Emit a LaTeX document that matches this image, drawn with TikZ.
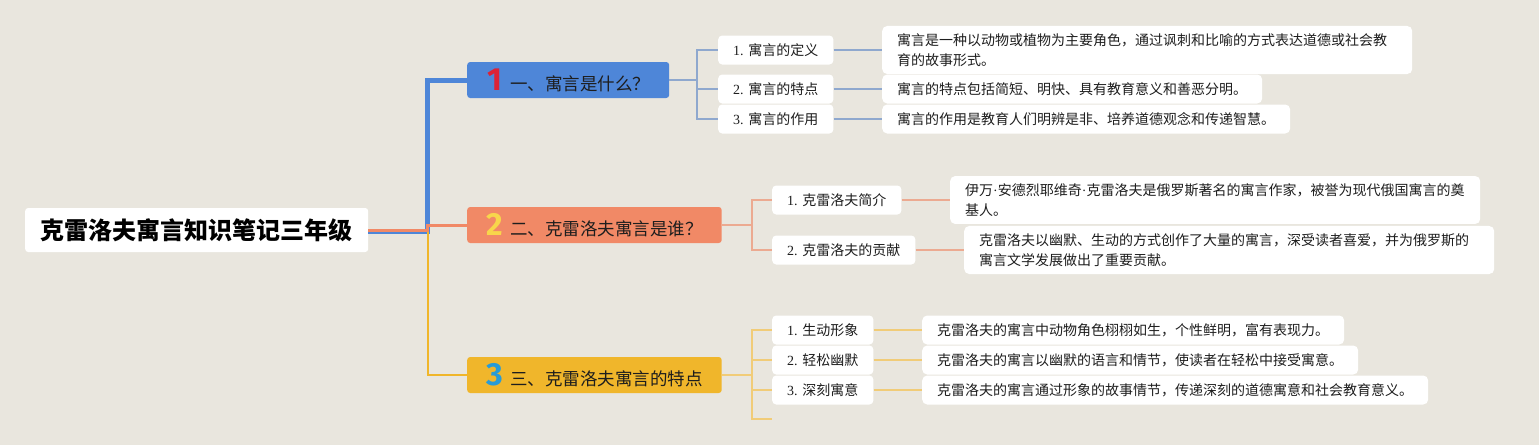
\documentclass[tikz,border=0pt]{standalone}
\usepackage{fontspec}
\setmainfont{Liberation Serif}
\newfontfamily\cjk{Noto Sans CJK SC}
\newfontfamily\numfont{Fira Sans}
\definecolor{bg}{RGB}{233,230,222}
\definecolor{blueM}{RGB}{78,134,216}
\definecolor{salM}{RGB}{241,137,102}
\definecolor{yelM}{RGB}{240,182,43}
\definecolor{blueL}{RGB}{143,168,206}
\definecolor{salL}{RGB}{236,170,145}
\definecolor{yelL}{RGB}{241,204,120}
\definecolor{numred}{RGB}{220,35,55}
\definecolor{numyel}{RGB}{248,214,75}
\definecolor{numblu}{RGB}{40,155,215}
\definecolor{txt}{RGB}{30,30,30}
\newcommand\mainlabel[3]{\kern13.5pt\makebox[28pt][c]{\numfont\bfseries\fontsize{32pt}{32pt}\selectfont\color{#1}#2}\kern1.5pt#3\kern19pt}
\newcommand\mdot{{\rmfamily\fontsize{14pt}{20pt}\selectfont ·}}
\begin{document}
\begin{tikzpicture}[x=1pt,y=-1pt,
  rootbox/.style={fill=white, rounded corners=3pt, inner xsep=15.5pt, inner ysep=0pt, minimum height=44pt, anchor=west, text=black, font=\cjk\bfseries\fontsize{24pt}{28pt}\selectfont},
  mainbox/.style={rounded corners=3pt, minimum height=36pt, inner xsep=0pt, inner ysep=0pt, anchor=west, text=txt, font=\cjk\fontsize{17.5pt}{20pt}\selectfont},
  subbox/.style={fill=white, rounded corners=4pt, minimum height=29pt, inner xsep=15pt, inner ysep=0pt, anchor=west, text=txt, font=\fontsize{14pt}{20pt}\selectfont},
  leafbox/.style={fill=white, rounded corners=5pt, minimum height=29pt, inner xsep=15pt, inner ysep=7.5pt, anchor=west, align=left, text=txt, font=\cjk\fontsize{14pt}{20pt}\selectfont},
  wideleaf/.style={leafbox, text width=500pt},
  bluesub/.style={draw=blueL, line width=2pt},
  salsub/.style={draw=salL, line width=2pt},
  yelsub/.style={draw=yelL, line width=2pt}
]
\fill[bg] (0,0) rectangle (1539,445);
\useasboundingbox (0,0) rectangle (1539,445);

% root
\node[rootbox] (root) at (25,230) {克雷洛夫寓言知识笔记三年级};

% main nodes
\node[mainbox, fill=blueM] (n1) at (467,80) {\mainlabel{numred}{1}{一、寓言是什么？}};
\node[mainbox, fill=salM] (n2) at (467,225) {\mainlabel{numyel}{2}{二、克雷洛夫寓言是谁？}};
\node[mainbox, fill=yelM] (n3) at (467,375) {\mainlabel{numblu}{3}{三、克雷洛夫寓言的特点}};

% sub nodes
\node[subbox] (c11) at (718,50) {1. {\cjk 寓言的定义}};
\node[subbox] (c12) at (718,89) {2. {\cjk 寓言的特点}};
\node[subbox] (c13) at (718,119) {3. {\cjk 寓言的作用}};
\node[subbox] (c21) at (772,200) {1. {\cjk 克雷洛夫简介}};
\node[subbox] (c22) at (772,250) {2. {\cjk 克雷洛夫的贡献}};
\node[subbox] (c31) at (772,330) {1. {\cjk 生动形象}};
\node[subbox] (c32) at (772,360) {2. {\cjk 轻松幽默}};
\node[subbox] (c33) at (772,390) {3. {\cjk 深刻寓意}};

% leaves
\node[wideleaf] (l11) at (882,50) {寓言是一种以动物或植物为主要角色，通过讽刺和比喻的方式表达道德或社会教\\育的故事形式。};
\node[leafbox] (l12) at (882,89) {寓言的特点包括简短、明快、具有教育意义和善恶分明。};
\node[leafbox] (l13) at (882,119) {寓言的作用是教育人们明辨是非、培养道德观念和传递智慧。};
\node[wideleaf] (l21) at (950,200) {伊万\mdot 安德烈耶维奇\mdot 克雷洛夫是俄罗斯著名的寓言作家，被誉为现代俄国寓言的奠\\基人。};
\node[wideleaf] (l22) at (964,250) {克雷洛夫以幽默、生动的方式创作了大量的寓言，深受读者喜爱，并为俄罗斯的\\寓言文学发展做出了重要贡献。};
\node[leafbox] (l31) at (922,330) {克雷洛夫的寓言中动物角色栩栩如生，个性鲜明，富有表现力。};
\node[leafbox] (l32) at (922,360) {克雷洛夫的寓言以幽默的语言和情节，使读者在轻松中接受寓意。};
\node[leafbox] (l33) at (922,390) {克雷洛夫的寓言通过形象的故事情节，传递深刻的道德寓意和社会教育意义。};

% coordinates
\coordinate (trunk) at (427.5,230);
\coordinate (f1) at (697,80);
\coordinate (f2) at (752,225);
\coordinate (f3) at (752,375);
\coordinate (e34) at (772,419);

% root trunk connectors
\draw[draw=blueM, line width=5pt] ([yshift=-1.5pt]root.east) -- ([yshift=-1.5pt]trunk) |- (n1.west);
\draw[draw=yelM, line width=2pt] (root.east) -- (trunk) |- (n3.west);
\draw[draw=salM, line width=3pt] (root.east) -- (trunk) |- (n2.west);

% branch 1
\draw[bluesub] (n1.east) -- (f1);
\draw[bluesub] (f1) |- (c11.west);
\draw[bluesub] (f1) |- (c12.west);
\draw[bluesub] (f1) |- (c13.west);
\draw[bluesub] (c11.east) -- (l11.west);
\draw[bluesub] (c12.east) -- (l12.west);
\draw[bluesub] (c13.east) -- (l13.west);

% branch 2
\draw[salsub] (n2.east) -- (f2);
\draw[salsub] (f2) |- (c21.west);
\draw[salsub] (f2) |- (c22.west);
\draw[salsub] (c21.east) -- (l21.west);
\draw[salsub] (c22.east) -- (l22.west);

% branch 3
\draw[yelsub] (n3.east) -- (f3);
\draw[yelsub] (f3) |- (c31.west);
\draw[yelsub] (f3) |- (c32.west);
\draw[yelsub] (f3) |- (c33.west);
\draw[yelsub] (f3) |- (e34);
\draw[yelsub] (c31.east) -- (l31.west);
\draw[yelsub] (c32.east) -- (l32.west);
\draw[yelsub] (c33.east) -- (l33.west);
\end{tikzpicture}
\end{document}
